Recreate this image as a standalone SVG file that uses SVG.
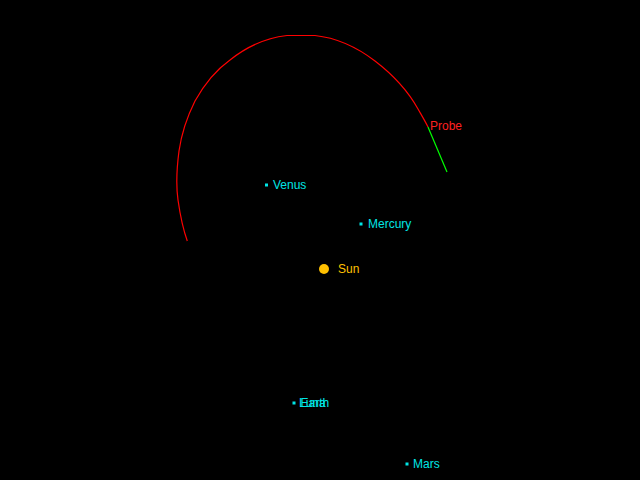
<svg xmlns="http://www.w3.org/2000/svg" width="640" height="480" viewBox="0 0 640 480">
<style>
.lbl{font-family:"Liberation Sans",Arial,sans-serif;font-size:12px;fill:#00e5e5}
.dot{fill:#00e5e5}
</style>
<rect x="0" y="0" width="640" height="480" fill="#000"/>
<g id="connectors" fill="none">
<path id="orbit" stroke="#ff0000" stroke-width="1.2" d="M187.3,241 C183,229 180,214 178,200 C176,186 176.5,170 179,151 C182,130 188,115 195,101 C205,83 216,70 230,60 C245,48 265,38 287,35.5 L315,35.5 C338,38 358,48 375,61 C392,74 408,91 418,109 C422,116 425,121 428,127"/>
<line id="probe-path" x1="428" y1="127" x2="447" y2="172" stroke="#00ff00" stroke-width="1.2"/>
</g>
<g id="probe"><text x="430" y="130" style="font-family:'Liberation Sans',Arial,sans-serif;font-size:12px;fill:#ff2020">Probe</text></g>
<g id="sun"><circle cx="324" cy="269" r="5" fill="#ffc000"/><text x="338" y="273" style="font-family:'Liberation Sans',Arial,sans-serif;font-size:12px;fill:#ffc000">Sun</text></g>
<g id="venus"><rect class="dot" x="265" y="183.5" width="3" height="3"/><text class="lbl" x="273" y="189">Venus</text></g>
<g id="mercury"><rect class="dot" x="359.5" y="222.5" width="3" height="3"/><text class="lbl" x="368" y="228">Mercury</text></g>
<g id="earth"><rect class="dot" x="292.5" y="401.5" width="3" height="3"/><text class="lbl" x="300.5" y="407">Earth</text></g>
<g id="luna"><text class="lbl" x="299" y="407">Luna</text></g>
<g id="mars"><rect class="dot" x="405.5" y="462.5" width="3" height="3"/><text class="lbl" x="413" y="468">Mars</text></g>
</svg>
